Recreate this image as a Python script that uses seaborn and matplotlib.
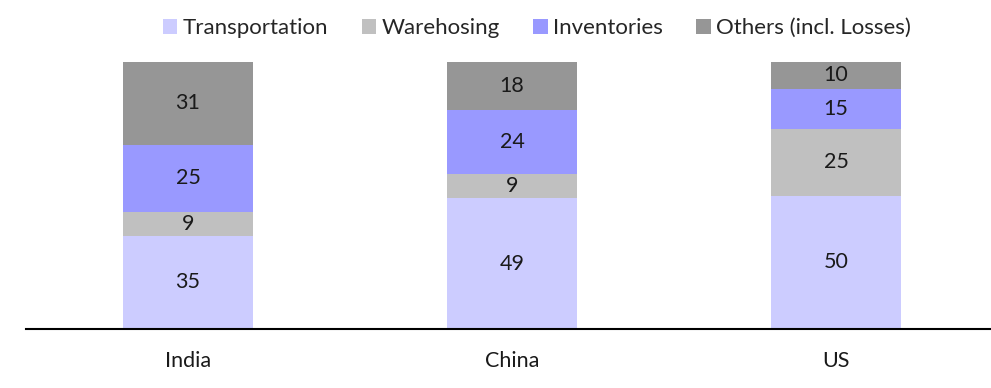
import numpy as np
import pandas as pd
import matplotlib
matplotlib.use("Agg")
import matplotlib.pyplot as plt
from matplotlib.patches import Patch
import seaborn as sns

countries = ["India", "China", "US"]
components = ["Transportation", "Warehosing", "Inventories", "Others (incl. Losses)"]
transportation = [35, 49, 50]
warehousing = [9, 9, 25]
inventories = [25, 24, 15]
others = [31, 18, 10]
colors = ["#CCCCFF", "#C0C0C0", "#9999FF", "#969696"]

sns.set_theme(style="white")
plt.rcParams["font.family"] = ["Lato", "DejaVu Sans"]

layers = [transportation, warehousing, inventories, others]
df = pd.DataFrame({c: v for c, v in zip(components, layers)}, index=countries)
cum = df.cumsum(axis=1)

fig = plt.figure(figsize=(9.91, 3.88), dpi=100)
ax = fig.add_axes([26 / 991, 1 - 329 / 388, 972 / 991, 267 / 388])

# Draw cumulative totals from the top layer down so each segment shows
for comp, col in reversed(list(zip(components, colors))):
    sns.barplot(x=countries, y=cum[comp].values, color=col, width=0.4,
                saturation=1, ax=ax, linewidth=0, order=countries)

# Segment labels at the middle of each segment
for i, country in enumerate(countries):
    for comp in components:
        val = df.loc[country, comp]
        mid = cum.loc[country, comp] - val / 2
        ax.text(i, mid, f"{val}", ha="center", va="center",
                fontsize=15.5, color="#1a1a1a")

ax.set_xlim(-0.5, 2.5)
ax.set_ylim(0, 100)
ax.set_yticks([])
ax.set_ylabel("")
for s in ["top", "right", "left"]:
    ax.spines[s].set_visible(False)
ax.spines["bottom"].set_color("black")
ax.spines["bottom"].set_linewidth(1.5)
ax.tick_params(axis="x", length=0, labelsize=15.5, colors="#1a1a1a", pad=16)

handles = [Patch(facecolor=c, edgecolor="none") for c in colors]
fig.legend(handles, components, loc="upper center", ncol=4,
           bbox_to_anchor=(0.542, 1.005), frameon=False, fontsize=16,
           handlelength=0.65, handleheight=0.65, handletextpad=0.25,
           columnspacing=1.5)

fig.savefig("out.png", dpi=100)
